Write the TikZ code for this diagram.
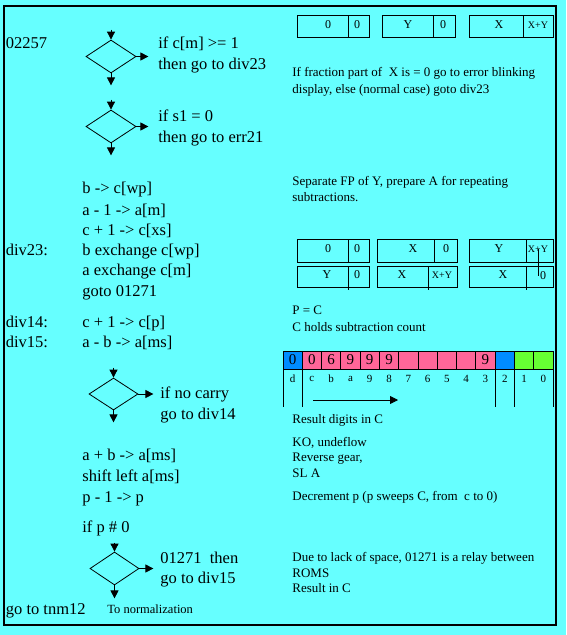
\documentclass[tikz,border=0pt]{standalone}
\usepackage{fontspec}
\setmainfont{Liberation Serif}
\usetikzlibrary{shapes.geometric, arrows.meta, calc}
\definecolor{ScreenCyan}{RGB}{102,255,255}
\definecolor{RegPink}{RGB}{255,102,153}
\definecolor{RegBlue}{RGB}{0,140,255}
\definecolor{RegGreen}{RGB}{102,255,51}
\tikzset{
  decision/.style={draw, diamond, inner sep=0pt, minimum width=50pt, minimum height=33pt},
  flow/.style={-{Triangle[width=8pt,length=8pt]}},
  code/.style={anchor=base west, inner sep=0pt, font=\fontsize{16.5}{18}\selectfont},
  note/.style={anchor=base west, inner sep=0pt, font=\fontsize{13}{15}\selectfont},
  cell/.style={inner sep=0pt, font=\fontsize{12}{14}\selectfont},
  smallcell/.style={inner sep=0pt, font=\fontsize{10}{12}\selectfont},
  digit/.style={inner sep=0pt, font=\fontsize{15}{17}\selectfont},
  idx/.style={inner sep=0pt, font=\fontsize{11}{13}\selectfont},
}

\begin{document}
\begin{tikzpicture}[x=1pt, y=-1pt, line width=0.8pt]
  \fill[ScreenCyan] (0,0) rectangle (566,635);
  \useasboundingbox (0,0) rectangle (566,635);
  \draw[line width=1.2pt] (4,6) rectangle (556,625);

  % left column: the routine
  \node[code] (lbl02257) at (5.5,48) {02257};
  \node[decision] (d1) at (111,56.5) {};
  \draw[flow] ([yshift=10pt]d1.north) -- (d1.north);
  \draw[flow] (d1.south) -- ++(0,12);
  \draw[flow] (d1.east) -- ++(12,0);
  \node[code] (t1a) at (158,48) {if c[m] >= 1};
  \node[code] (t1b) at (158,69) {then go to div23};

  \node[decision] (d2) at (111,126.5) {};
  \draw[flow] ([yshift=10pt]d2.north) -- (d2.north);
  \draw[flow] (d2.south) -- ++(0,12);
  \draw[flow] (d2.east) -- ++(12,0);
  \node[code] (t2a) at (158,121) {if s1 = 0};
  \node[code] (t2b) at (158,142) {then go to err21};

  \node[code] (s1) at (82,193) {b -> c[wp]};
  \node[code] (s2) at (82,215) {a - 1 -> a[m]};
  \node[code] (s3) at (82,235) {c + 1 -> c[xs]};
  \node[code] (lbldiv23) at (5.5,255) {div23:};
  \node[code] (s4) at (82,255) {b exchange c[wp]};
  \node[code] (s5) at (82,275) {a exchange c[m]};
  \node[code] (s6) at (82,296) {goto 01271};

  \node[code] (lbldiv14) at (5.5,327) {div14:};
  \node[code] (s7) at (82,327) {c + 1 -> c[p]};
  \node[code] (lbldiv15) at (5.5,347) {div15:};
  \node[code] (s8) at (82,347) {a - b -> a[ms]};

  \node[decision, minimum width=49pt, minimum height=32pt] (d3) at (113.5,394) {};
  \draw[flow] ([yshift=10pt]d3.north) -- (d3.north);
  \draw[flow] (d3.south) -- ++(0,12);
  \draw[flow] (d3.east) -- ++(15,0);
  \node[code] (t3a) at (160,398) {if no carry};
  \node[code] (t3b) at (160,419) {go to div14};

  \node[code] (s9) at (82,460) {a + b -> a[ms]};
  \node[code] (s10) at (82,481) {shift left a[ms]};
  \node[code] (s11) at (82,502) {p - 1 -> p};
  \node[code] (s12) at (82,532) {if p \# 0};

  \node[decision, minimum width=49pt] (d4) at (114.5,568.5) {};
  \draw[flow] ([yshift=9pt]d4.north) -- (d4.north);
  \draw[flow] (d4.south) -- ++(0,13);
  \draw[flow] (d4.east) -- ++(14,0);
  \node[code] (t4a) at (160,563) {01271\ \ then};
  \node[code] (t4b) at (160,583) {go to div15};
  \node[code] (s13) at (5.5,614) {go to tnm12};
  \node[note, font=\fontsize{12.5}{14}\selectfont] (tonorm) at (107,613) {To normalization};

  % right column: registers and remarks
  \draw (297,15) rectangle (369,37) (348,15) -- (348,37);
  \draw (382,15) rectangle (455,37) (433,15) -- (433,37);
  \draw (469,15) rectangle (553,37) (523,15) -- (523,37);
  \node[cell] (r1a) at (328,25) {0};
  \node[cell] (r1b) at (357,25) {0};
  \node[cell] (r1c) at (408,25) {Y};
  \node[cell] (r1d) at (443,25) {0};
  \node[cell] (r1e) at (499,25) {X};
  \node[smallcell] (r1f) at (538,25) {X+Y};
  \node[note] (n1a) at (292,76) {If fraction part of\ \ X is = 0 go to error blinking};
  \node[note] (n1b) at (292,93) {display, else (normal case) goto div23};
  \node[note] (n2a) at (292,185) {Separate FP of Y, prepare A for repeating};
  \node[note] (n2b) at (292,201) {subtractions.};

  \draw (297,239) rectangle (369,262) (348,239) -- (348,262);
  \draw (377,239) rectangle (457,262) (434,239) -- (434,262);
  \draw (469,239) rectangle (553,262) (526,239) -- (526,262);
  \node[cell] (r2a) at (328,249) {0};
  \node[cell] (r2b) at (357,249) {0};
  \node[cell] (r2c) at (413,249) {X};
  \node[cell] (r2d) at (446,249) {0};
  \node[cell] (r2e) at (499,249) {Y};
  \node[smallcell] (r2f) at (538,249) {X+Y};
  \draw (297,266) rectangle (369,287) (348,266) -- (348,290);
  \draw (377,266) rectangle (457,287) (428,266) -- (428,290);
  \draw (469,266) rectangle (553,287) (526,266) -- (526,290);
  \node[cell] (r3a) at (327,275) {Y};
  \node[cell] (r3b) at (357,275) {0};
  \node[cell] (r3c) at (402,275) {X};
  \node[smallcell] (r3d) at (442,275) {X+Y};
  \node[cell] (r3e) at (503,275) {X};
  \node[cell] (r3f) at (543,276) {0};
  \draw (r2f.center) -- (r2f.center |- r3f.center);
  \node[note] (n3a) at (292,314) {P = C};
  \node[note] (n3b) at (292,331) {C holds subtraction count};

  % register C
  \foreach \i/\col/\dig/\lab in {0/RegBlue/0/d, 1/RegPink/0/c, 2/RegPink/6/b, 3/RegPink/9/a,
      4/RegPink/9/9, 5/RegPink/9/8, 6/RegPink/{}/7, 7/RegPink/{}/6, 8/RegPink/{}/5,
      9/RegPink/{}/4, 10/RegPink/9/3, 11/RegBlue/{}/2, 12/RegGreen/{}/1, 13/RegGreen/{}/0} {
    \fill[\col] (283+19.286*\i,351) rectangle ++(19.286,18);
    \node[digit] (dig\i) at (292.6+19.286*\i,360) {\dig};
    \node[idx] (idx\i) at (292.6+19.286*\i,379) {\lab};
  }
  \draw (283,351) rectangle (553,369);
  \foreach \i in {1,...,13}
    \draw (283+19.286*\i,351) -- ++(0,18);
  \foreach \x in {283,302.3,495.1,514.4,553}
    \draw (\x,369) -- (\x,407);
  \coordinate (sweepfrom) at (313,400);
  \coordinate (sweepto) at (398,400);
  \draw[flow] (sweepfrom) -- (sweepto);
  \node[note] (n4) at (292,423) {Result digits in C};

  \node[note] (n5a) at (292,446) {KO, undeflow};
  \node[note] (n5b) at (292,461) {Reverse gear,};
  \node[note] (n5c) at (292,477) {SL A};
  \node[note] (n6) at (292,500) {Decrement p (p sweeps C, from\ \ c to 0)};
  \node[note] (n7a) at (292,561) {Due to lack of space, 01271 is a relay between};
  \node[note] (n7b) at (292,577) {ROMS};
  \node[note] (n7c) at (292,592) {Result in C};
\end{tikzpicture}
\end{document}
